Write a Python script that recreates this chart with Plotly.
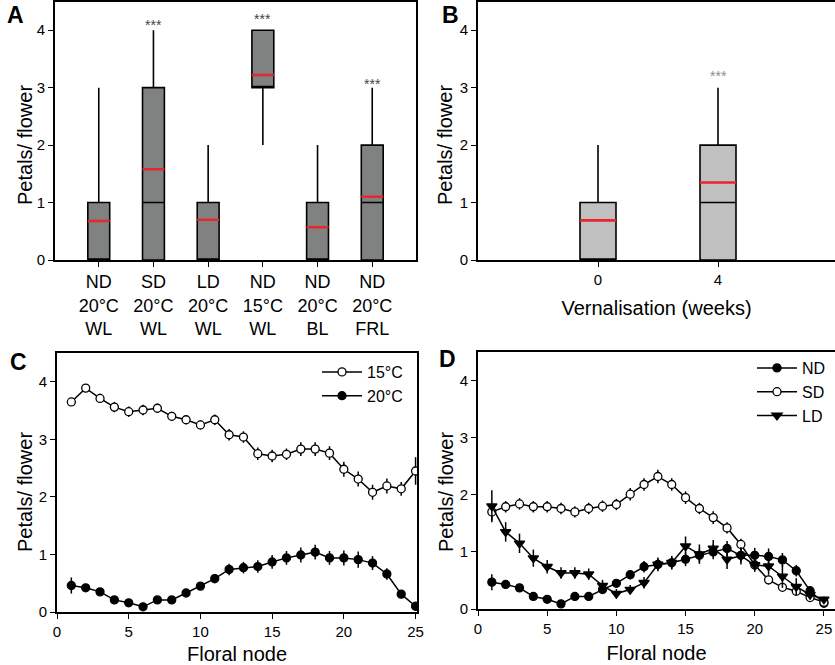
import plotly.graph_objects as go

FONT = "Liberation Sans, Arial, sans-serif"
W, H = 835, 665

# ---------------- Panel A data ----------------
a_labels = ["ND<br>20°C<br>WL", "SD<br>20°C<br>WL", "LD<br>20°C<br>WL",
            "ND<br>15°C<br>WL", "ND<br>20°C<br>BL", "ND<br>20°C<br>FRL"]
a_q1 = [0, 0, 0, 3, 0, 0]
a_median = [0, 1, 0, 3, 0, 1]
a_q3 = [1, 3, 1, 4, 1, 2]
a_low = [0, 0, 0, 2, 0, 0]
a_high = [3, 4, 2, 4, 2, 3]
a_mean = [0.68, 1.58, 0.70, 3.22, 0.57, 1.10]
a_star_y = [None, 4.16, None, 4.26, None, 3.13]

# ---------------- Panel B data ----------------
b_weeks = [0, 4]
b_q1 = [0, 0]
b_median = [0, 1]
b_q3 = [1, 2]
b_low = [0, 0]
b_high = [2, 3]
b_mean = [0.69, 1.35]
b_star_y = [None, 3.26]

# ---------------- Panel C data ----------------
nodes = list(range(1, 26))
c15 = [3.65, 3.89, 3.71, 3.56, 3.48, 3.51, 3.54, 3.40, 3.34, 3.25, 3.34, 3.08, 3.04,
       2.75, 2.71, 2.74, 2.83, 2.83, 2.76, 2.48, 2.31, 2.08, 2.19, 2.14, 2.45]
c15_err = [0.03, 0.05, 0.08, 0.09, 0.09, 0.09, 0.08, 0.08, 0.08, 0.08, 0.09, 0.10, 0.10,
           0.11, 0.11, 0.10, 0.12, 0.12, 0.12, 0.13, 0.13, 0.13, 0.13, 0.12, 0.24]
c20 = [0.46, 0.42, 0.35, 0.21, 0.16, 0.09, 0.21, 0.21, 0.33, 0.45, 0.58, 0.74, 0.77,
       0.79, 0.87, 0.94, 0.99, 1.04, 0.94, 0.94, 0.91, 0.85, 0.66, 0.31, 0.10]
c20_err = [0.14, 0.06, 0.05, 0.04, 0.03, 0.03, 0.04, 0.04, 0.05, 0.07, 0.08, 0.10, 0.10,
           0.11, 0.12, 0.12, 0.13, 0.13, 0.12, 0.13, 0.14, 0.12, 0.10, 0.06, 0.03]

# ---------------- Panel D data ----------------
d_nd = [0.47, 0.43, 0.37, 0.22, 0.17, 0.09, 0.22, 0.22, 0.34, 0.45, 0.60, 0.74, 0.78,
        0.81, 0.87, 0.94, 1.00, 1.06, 0.94, 0.94, 0.92, 0.86, 0.67, 0.32, 0.10]
d_nd_err = [0.14, 0.06, 0.05, 0.04, 0.03, 0.03, 0.04, 0.04, 0.05, 0.07, 0.08, 0.10, 0.10,
            0.11, 0.12, 0.12, 0.13, 0.13, 0.12, 0.13, 0.14, 0.12, 0.10, 0.06, 0.03]
d_sd = [1.70, 1.79, 1.84, 1.79, 1.79, 1.76, 1.70, 1.76, 1.80, 1.83, 2.01, 2.18, 2.32,
        2.18, 1.95, 1.76, 1.60, 1.42, 1.13, 0.77, 0.51, 0.38, 0.31, 0.20, 0.12]
d_sd_err = [0.15, 0.10, 0.10, 0.10, 0.10, 0.10, 0.10, 0.10, 0.10, 0.10, 0.11, 0.11, 0.12,
            0.11, 0.11, 0.10, 0.11, 0.10, 0.10, 0.09, 0.08, 0.07, 0.06, 0.05, 0.04]
d_ld = [1.80, 1.35, 1.15, 0.89, 0.74, 0.63, 0.63, 0.61, 0.41, 0.27, 0.34, 0.46, 0.78,
        0.81, 1.10, 0.96, 1.06, 0.87, 0.93, 0.77, 0.75, 0.57, 0.39, 0.25, 0.17]
d_ld_err = [0.28, 0.17, 0.17, 0.15, 0.12, 0.10, 0.10, 0.10, 0.10, 0.08, 0.08, 0.10, 0.12,
            0.12, 0.17, 0.17, 0.15, 0.17, 0.15, 0.12, 0.15, 0.20, 0.15, 0.08, 0.05]

fig = go.Figure()

# ---- Panel A boxes ----
a_x = list(range(len(a_labels)))
fig.add_trace(go.Box(
    x=a_x, q1=a_q1, median=a_median, q3=a_q3, lowerfence=a_low, upperfence=a_high,
    width=0.4, whiskerwidth=0, fillcolor="#7f8280",
    line=dict(color="black", width=1.6), xaxis="x", yaxis="y",
    showlegend=False, hoverinfo="skip"))
mx, my = [], []
for xi, m in zip(a_x, a_mean):
    mx += [xi - 0.2, xi + 0.2, None]
    my += [m, m, None]
fig.add_trace(go.Scatter(x=mx, y=my, mode="lines", line=dict(color="#e8262d", width=2.6),
                         xaxis="x", yaxis="y", showlegend=False, hoverinfo="skip"))

# ---- Panel B boxes ----
fig.add_trace(go.Box(
    x=b_weeks, q1=b_q1, median=b_median, q3=b_q3, lowerfence=b_low, upperfence=b_high,
    width=1.2, whiskerwidth=0, fillcolor="#c0c0c0",
    line=dict(color="black", width=1.6), xaxis="x2", yaxis="y2",
    showlegend=False, hoverinfo="skip"))
bx, by = [], []
for xi, m in zip(b_weeks, b_mean):
    bx += [xi - 0.6, xi + 0.6, None]
    by += [m, m, None]
fig.add_trace(go.Scatter(x=bx, y=by, mode="lines", line=dict(color="#e8262d", width=2.6),
                         xaxis="x2", yaxis="y2", showlegend=False, hoverinfo="skip"))

# ---- Panel C / D lines ----
def line_trace(y, err, name, symbol, fill, xa, ya, legend, group):
    return go.Scatter(
        x=nodes, y=y, name=name, mode="lines+markers",
        line=dict(color="black", width=1.5),
        marker=dict(symbol=symbol, size=8 if "circle" in symbol else 9, color=fill,
                    line=dict(color="black", width=1.3)),
        error_y=dict(type="data", array=err, visible=True, width=0, thickness=1.5,
                     color="black"),
        xaxis=xa, yaxis=ya, legend=legend, legendgroup=group, hoverinfo="skip")

fig.add_trace(line_trace(c15, c15_err, "15°C", "circle", "white", "x3", "y3", "legend", "c1"))
fig.add_trace(line_trace(c20, c20_err, "20°C", "circle", "black", "x3", "y3", "legend", "c2"))

fig.add_trace(line_trace(d_nd, d_nd_err, "ND", "circle", "black", "x4", "y4", "legend2", "d1"))
fig.add_trace(line_trace(d_sd, d_sd_err, "SD", "circle", "white", "x4", "y4", "legend2", "d2"))
fig.add_trace(line_trace(d_ld, d_ld_err, "LD", "triangle-down", "black", "x4", "y4", "legend2", "d3"))

# ---- annotations (stars, panel letters, y titles) ----
ann = []
for xi, sy in zip(a_x, a_star_y):
    if sy is not None:
        ann.append(dict(x=xi, y=sy, xref="x", yref="y", text="***", showarrow=False, yshift=-4,
                        font=dict(size=14, color="#444444", family=FONT), yanchor="middle"))
for xi, sy in zip(b_weeks, b_star_y):
    if sy is not None:
        ann.append(dict(x=xi, y=sy, xref="x2", yref="y2", text="***", showarrow=False, yshift=-3,
                        font=dict(size=14, color="#8a8a8a", family=FONT), yanchor="middle"))

letters = [("A", 5, 0), ("B", 440, 0), ("C", 8, 347), ("D", 437, 344)]
for t, px, py in letters:
    ann.append(dict(x=px / W, y=1 - py / H, xref="paper", yref="paper", text="<b>%s</b>" % t,
                    showarrow=False, xanchor="left", yanchor="top",
                    font=dict(size=23, color="black", family=FONT)))

ytitle_pos = [(25, 145), (445, 145), (25, 492), (446, 492)]
for px, py in ytitle_pos:
    ann.append(dict(x=px / W, y=1 - py / H, xref="paper", yref="paper", text="Petals/ flower",
                    textangle=-90, showarrow=False, xanchor="center", yanchor="middle",
                    font=dict(size=20, color="black", family=FONT)))

def ax(domain, rng, **kw):
    d = dict(domain=domain, range=rng, showline=True, linecolor="black", linewidth=1.6,
             ticks="outside", ticklen=5, tickcolor="black", tickwidth=1.2, showgrid=False,
             zeroline=False, automargin=False,
             tickfont=dict(size=15, color="black", family=FONT))
    d.update(kw)
    return d

def xtitle(text, standoff):
    return dict(text=text, font=dict(size=20, color="black", family=FONT), standoff=standoff)

fig.update_layout(
    width=W, height=H, margin=dict(l=0, r=0, t=0, b=0, autoexpand=False),
    paper_bgcolor="white", plot_bgcolor="white",
    font=dict(family=FONT, color="black"),
    xaxis=ax([55 / W, 416 / W], [-0.8, 5.8], anchor="y", mirror=True,
             tickvals=a_x, ticktext=a_labels, tickfont=dict(size=18, color="black", family=FONT)),
    yaxis=ax([1 - 260 / H, 1 - 1.5 / H], [0, 4.5], anchor="x", mirror=True,
             tickvals=[0, 1, 2, 3, 4]),
    xaxis2=ax([478 / W, 1.0], [-4, 7.9], anchor="y2", mirror=True,
              tickvals=b_weeks, ticktext=[str(v) for v in b_weeks],
              title=xtitle("Vernalisation (weeks)", 14)),
    yaxis2=ax([1 - 260 / H, 1 - 1.5 / H], [0, 4.5], anchor="x2", mirror=False,
              tickvals=[0, 1, 2, 3, 4]),
    xaxis3=ax([57 / W, 417 / W], [0, 25.1], anchor="y3", mirror=True,
              tickvals=[0, 5, 10, 15, 20, 25], title=xtitle("Floral node", 9)),
    yaxis3=ax([1 - 612 / H, 1 - 353 / H], [0, 4.5], anchor="x3", mirror=True,
              tickvals=[0, 1, 2, 3, 4]),
    xaxis4=ax([478 / W, 1.0], [0, 25.8], anchor="y4", mirror=True,
              tickvals=[0, 5, 10, 15, 20, 25], title=xtitle("Floral node", 10)),
    yaxis4=ax([1 - 609 / H, 1 - 352 / H], [0, 4.5], anchor="x4", mirror=False,
              tickvals=[0, 1, 2, 3, 4]),
    legend=dict(x=317 / W, y=1 - 355 / H, xanchor="left", yanchor="top", itemwidth=40,
                bgcolor="rgba(0,0,0,0)", font=dict(size=16, color="black", family=FONT),
                tracegroupgap=0),
    legend2=dict(x=752 / W, y=1 - 351 / H, xanchor="left", yanchor="top", itemwidth=40,
                 bgcolor="rgba(0,0,0,0)", font=dict(size=16, color="black", family=FONT),
                 tracegroupgap=0),
    annotations=ann,
)

fig.write_html("out.html", config={"displayModeBar": False},
               post_script="document.body.style.margin='0';document.body.style.padding='0';")
